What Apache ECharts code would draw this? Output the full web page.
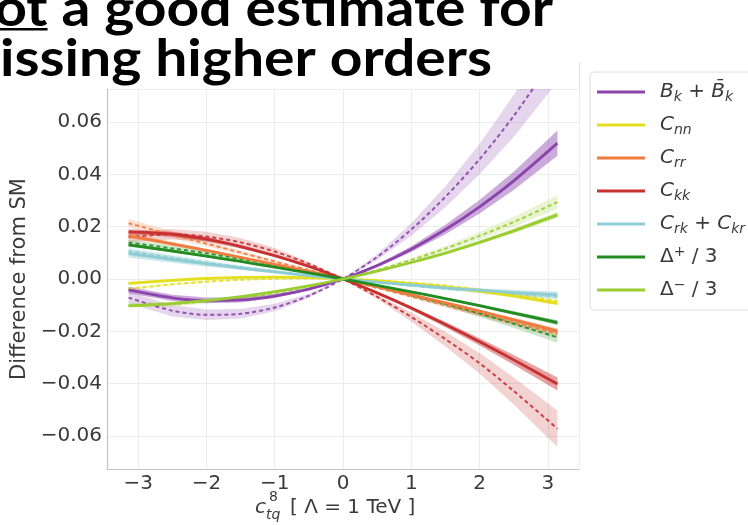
<!DOCTYPE html>
<html><head><meta charset="utf-8">
<script src="https://cdn.jsdelivr.net/npm/echarts@6/dist/echarts.min.js"></script>
<style>html,body{margin:0;padding:0;background:#fff;}#c{width:748px;height:525px;}</style>
</head><body><div id="c"></div>
<script>
// ---------------- data ----------------
const xValues = [-3.14,-2.5,-2,-1.5,-1,-0.5,0,0.5,1,1.5,2,2.5,3.14];
const legendKeys = ['Bk','Cnn','Crr','Ckk','Crk','Dp','Dm'];

const bkSolid     = [-0.0042,-0.0072,-0.0082,-0.0080,-0.0065,-0.0039,0,0.0051,0.0114,0.0189,0.0276,0.0375,0.0519];
const bkSolidErr  = [0.0012,0.0012,0.0011,0.0010,0.0008,0.0004,0,0.0005,0.0011,0.0018,0.0026,0.0035,0.0048];
const bkDash      = [-0.0071,-0.0121,-0.0137,-0.0133,-0.0109,-0.0064,0,0.0084,0.0189,0.0314,0.0458,0.0623,0.0863];
const bkDashErr   = [0.0022,0.0022,0.0020,0.0018,0.0014,0.0008,0,0.0011,0.0024,0.0040,0.0058,0.0080,0.0110];

const cnnSolid    = [-0.0017,-0.0005,0.0002,0.0006,0.0007,0.0005,0,-0.0007,-0.0018,-0.0031,-0.0047,-0.0065,-0.0093];
const cnnSolidErr = [0.0006,0.0005,0.0004,0.0003,0.0002,0.0001,0,0.0001,0.0002,0.0003,0.0004,0.0005,0.0007];
const cnnDash     = [-0.0038,-0.0020,-0.0010,-0.0003,0.0001,0.0002,0,-0.0005,-0.0014,-0.0025,-0.0040,-0.0058,-0.0085];
const cnnDashErr  = [0.0006,0.0005,0.0004,0.0003,0.0002,0.0001,0,0.0001,0.0002,0.0003,0.0004,0.0005,0.0007];

const crrSolid    = [0.0165,0.0134,0.0109,0.0083,0.0056,0.0029,0,-0.0029,-0.0060,-0.0091,-0.0123,-0.0156,-0.0199];
const crrSolidErr = [0.0009,0.0007,0.0006,0.0004,0.0003,0.0002,0,0.0002,0.0003,0.0005,0.0006,0.0008,0.0010];
const crrDash     = [0.0213,0.0169,0.0135,0.0101,0.0067,0.0034,0,-0.0034,-0.0067,-0.0101,-0.0134,-0.0167,-0.0210];
const crrDashErr  = [0.0016,0.0013,0.0010,0.0008,0.0005,0.0003,0,0.0003,0.0005,0.0008,0.0010,0.0013,0.0016];

const ckkSolid    = [0.0180,0.0171,0.0152,0.0124,0.0089,0.0048,0,-0.0053,-0.0111,-0.0174,-0.0240,-0.0309,-0.0401];
const ckkSolidErr = [0.0010,0.0010,0.0009,0.0007,0.0005,0.0003,0,0.0003,0.0007,0.0010,0.0014,0.0019,0.0025];
const ckkDash     = [0.0160,0.0171,0.0162,0.0140,0.0105,0.0058,0,-0.0068,-0.0145,-0.0230,-0.0322,-0.0428,-0.0572];
const ckkDashErr  = [0.0020,0.0020,0.0019,0.0017,0.0013,0.0007,0,0.0008,0.0017,0.0028,0.0039,0.0052,0.0070];

const crkSolid    = [0.0098,0.0075,0.0058,0.0042,0.0027,0.0013,0,-0.0012,-0.0023,-0.0034,-0.0043,-0.0052,-0.0061];
const crkSolidErr = [0.0016,0.0013,0.0010,0.0007,0.0005,0.0002,0,0.0002,0.0004,0.0006,0.0008,0.0010,0.0013];
const crkDash     = [0.0106,0.0081,0.0063,0.0046,0.0030,0.0014,0,-0.0013,-0.0026,-0.0037,-0.0047,-0.0056,-0.0067];
const crkDashErr  = [0.0016,0.0013,0.0010,0.0007,0.0005,0.0002,0,0.0002,0.0004,0.0006,0.0008,0.0010,0.0013];

const dpSolid     = [0.0130,0.0107,0.0087,0.0067,0.0045,0.0023,0,-0.0024,-0.0049,-0.0075,-0.0102,-0.0130,-0.0167];
const dpSolidErr  = [0.0006,0.0005,0.0004,0.0003,0.0002,0.0001,0,0.0001,0.0002,0.0004,0.0005,0.0007,0.0009];
const dpDash      = [0.0139,0.0117,0.0098,0.0077,0.0053,0.0028,0,-0.0030,-0.0062,-0.0096,-0.0132,-0.0171,-0.0223];
const dpDashErr   = [0.0012,0.0010,0.0008,0.0007,0.0005,0.0003,0,0.0003,0.0006,0.0009,0.0012,0.0016,0.0021];

const dmSolid     = [-0.0103,-0.0094,-0.0082,-0.0067,-0.0048,-0.0026,0,0.0030,0.0063,0.0099,0.0140,0.0184,0.0245];
const dmSolidErr  = [0.0005,0.0004,0.0004,0.0003,0.0002,0.0001,0,0.0001,0.0003,0.0004,0.0006,0.0008,0.0010];
const dmDash      = [-0.0100,-0.0096,-0.0086,-0.0072,-0.0053,-0.0029,0,0.0034,0.0073,0.0116,0.0165,0.0218,0.0294];
const dmDashErr   = [0.0009,0.0009,0.0008,0.0006,0.0005,0.0003,0,0.0003,0.0007,0.0010,0.0015,0.0019,0.0026];

const yTickValues = [-0.06,-0.04,-0.02,0,0.02,0.04,0.06];
const xTickValues = [-3,-2,-1,0,1,2,3];

// ---------------- styles ----------------
const colors = {Bk:'#8B44AC', Cnn:'#E3DF1E', Crr:'#EF7B3E', Ckk:'#C73131', Crk:'#8ECDD3', Dp:'#228B22', Dm:'#9ACD32'};
const curves = [
  {key:'Bk',  s:bkSolid,  se:bkSolidErr,  d:bkDash,  de:bkDashErr},
  {key:'Cnn', s:cnnSolid, se:cnnSolidErr, d:cnnDash, de:cnnDashErr},
  {key:'Crr', s:crrSolid, se:crrSolidErr, d:crrDash, de:crrDashErr},
  {key:'Ckk', s:ckkSolid, se:ckkSolidErr, d:ckkDash, de:ckkDashErr},
  {key:'Crk', s:crkSolid, se:crkSolidErr, d:crkDash, de:crkDashErr},
  {key:'Dp',  s:dpSolid,  se:dpSolidErr,  d:dpDash,  de:dpDashErr},
  {key:'Dm',  s:dmSolid,  se:dmSolidErr,  d:dmDash,  de:dmDashErr}
];
const legendLabels = {
  Bk:'{i|B}{sub|k}{n| + }{i|B\u0304}{sub|k}',
  Cnn:'{i|C}{sub|nn}',
  Crr:'{i|C}{sub|rr}',
  Ckk:'{i|C}{sub|kk}',
  Crk:'{i|C}{sub|rk}{n| + }{i|C}{sub|kr}',
  Dp:'{n|\u0394}{sup|+}{n| / 3}',
  Dm:'{n|\u0394}{sup|\u2212}{n| / 3}'
};

const SM = 0.3;
const pts = vals => xValues.map((x,i)=>[x, vals[i]]);
function band(id, vals, err, color, opacity, z){
  const rows = xValues.map((x,i)=>[x, vals[i]-err[i], vals[i]+err[i]]);
  return {
    type:'custom', name:id, data:rows, encode:{x:0, y:[1,2]}, clip:true, silent:true, z:z,
    renderItem:(params, api) => {
      if (params.dataIndex !== 0) return null;
      const up = rows.map(r => api.coord([r[0], r[2]]));
      const dn = rows.map(r => api.coord([r[0], r[1]])).reverse();
      const cs = params.coordSys;
      return {type:'polygon', shape:{points: up.concat(dn)},
        style:{fill:color, opacity:opacity},
        clipPath:{type:'rect', shape:{x:cs.x, y:cs.y, width:cs.width, height:cs.height}}};
    }
  };
}
const series = [];
curves.forEach(c=>{ series.push(band(c.key+'_db', c.d, c.de, colors[c.key], 0.22, 1)); });
curves.forEach(c=>{ series.push(band(c.key+'_sb', c.s, c.se, colors[c.key], 0.45, 2)); });
curves.forEach(c=>{ series.push({type:'line', name:c.key+'_dash', data:pts(c.d), symbol:'none', smooth:SM,
  lineStyle:{color:colors[c.key], width:2, type:[4,3], opacity:0.9}, itemStyle:{color:colors[c.key]}, z:3, silent:true}); });
curves.forEach(c=>{ series.push({type:'line', name:c.key, data:pts(c.s), symbol:'none', smooth:SM,
  lineStyle:{color:colors[c.key], width:2.8}, itemStyle:{color:colors[c.key]}, z:4, silent:true}); });

// ---------------- title measurement ----------------
const TITLE_FONT = 'bold 52px Lato';
const mctx = document.createElement('canvas').getContext('2d');
mctx.font = TITLE_FONT;
const sx = 492 / mctx.measureText('issing higher orders').width;
const w1 = mctx.measureText('not a good estimate for').width * sx;
const wNot = mctx.measureText('not').width * sx;
const line1Start = 553 - w1;

const near = (v, arr, tol) => arr.some(t => Math.abs(t - v) < tol);
const fmtNum = (v, d) => (v < -1e-12 ? '\u2212' : '') + Math.abs(v).toFixed(d);
const axisFont = {fontFamily:'DejaVu Sans', fontSize:20, color:'#3a3a3a'};
const base = {fontFamily:'DejaVu Sans', fontSize:20, color:'#3a3a3a', lineHeight:24};

const chart = echarts.init(document.getElementById('c'), null, {renderer:'canvas'});
chart.setOption({
  animation:false,
  backgroundColor:'#fff',
  grid:{left:107, right:169, top:89, bottom:56, containLabel:false},
  xAxis:{type:'value', min:-3.456, max:3.456, splitNumber:7,
    axisLine:{show:true, onZero:false, lineStyle:{color:'#c4c4c4', width:1.2}},
    axisTick:{show:false},
    axisLabel:Object.assign({}, axisFont, {margin:5, showMinLabel:false, showMaxLabel:false,
      formatter: v => near(v, xTickValues, 1e-6) ? fmtNum(Math.round(v),0) : ''}),
    splitLine:{show:true, lineStyle:{color:'#ececec', width:1}}},
  yAxis:{type:'value', min:-0.0726, max:0.0726, splitNumber:7,
    axisLine:{show:true, onZero:false, lineStyle:{color:'#c4c4c4', width:1.2}},
    axisTick:{show:false},
    axisLabel:Object.assign({}, axisFont, {margin:5, showMinLabel:false, showMaxLabel:false,
      formatter: v => near(v, yTickValues, 1e-7) ? fmtNum(Math.round(v*50)/50,2) : ''}),
    splitLine:{show:true, lineStyle:{color:'#ececec', width:1}},
    name:'Difference from SM', nameLocation:'middle', nameGap:65,
    nameTextStyle:{fontFamily:'DejaVu Sans', fontSize:21, color:'#3a3a3a'}},
  legend:{data:legendKeys, orient:'vertical', left:590, top:72, icon:'rect', itemWidth:48, itemHeight:3,
    itemGap:9, padding:[8,30,8,7], borderColor:'#dedede', borderWidth:1, borderRadius:4, backgroundColor:'#fff',
    selectedMode:false,
    formatter: name => legendLabels[name],
    textStyle:Object.assign({}, base, {padding:[0,0,0,10], rich:{
      i:{fontFamily:'DejaVu Sans', fontStyle:'italic', fontSize:20, color:'#3a3a3a', lineHeight:24},
      n:{fontFamily:'DejaVu Sans', fontSize:20, color:'#3a3a3a', lineHeight:24},
      sub:{fontFamily:'DejaVu Sans', fontStyle:'italic', fontSize:14, color:'#3a3a3a', verticalAlign:'bottom', lineHeight:14},
      sup:{fontFamily:'DejaVu Sans', fontSize:14, color:'#3a3a3a', verticalAlign:'top', lineHeight:14}
    }})},
  graphic:[
    {type:'line', shape:{x1:579.5, y1:62, x2:579.5, y2:469}, style:{stroke:'#e2e2e2', lineWidth:1}, silent:true},
    {type:'text', x:553, y:9, scaleX:sx, style:{text:'not a good estimate for', font:TITLE_FONT, fill:'#000',
      textAlign:'right', align:'right', textVerticalAlign:'middle', verticalAlign:'middle'}, z:100},
    {type:'rect', shape:{x:line1Start, y:28, width:wNot, height:2.5}, style:{fill:'#000'}, z:100},
    {type:'text', x:492, y:59, scaleX:sx, style:{text:'missing higher orders', font:TITLE_FONT, fill:'#000',
      textAlign:'right', align:'right', textVerticalAlign:'middle', verticalAlign:'middle'}, z:100},
    {type:'text', x:255, y:508, style:{text:'c', font:'italic 20px "DejaVu Sans"', fill:'#3a3a3a', textVerticalAlign:'middle', verticalAlign:'middle'}},
    {type:'text', x:269, y:497, style:{text:'8', font:'14px "DejaVu Sans"', fill:'#3a3a3a', textVerticalAlign:'middle', verticalAlign:'middle'}},
    {type:'text', x:266, y:515, style:{text:'tq', font:'italic 14px "DejaVu Sans"', fill:'#3a3a3a', textVerticalAlign:'middle', verticalAlign:'middle'}},
    {type:'text', x:290, y:508, style:{text:'[ \u039B = 1 TeV ]', font:'20px "DejaVu Sans"', fill:'#3a3a3a', textVerticalAlign:'middle', verticalAlign:'middle'}}
  ],
  series:series
});
</script></body></html>
